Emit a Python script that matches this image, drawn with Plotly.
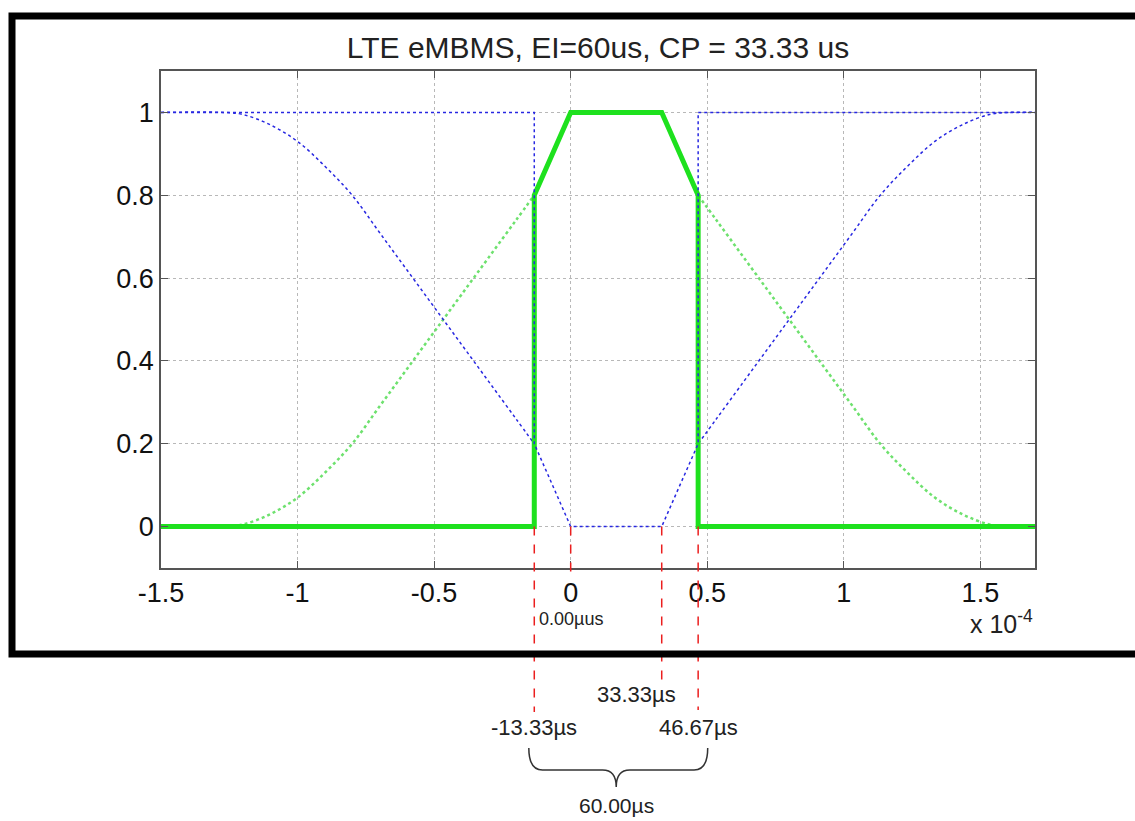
import plotly.graph_objects as go

# ---------------- data (time in microseconds) ----------------
edge_x_us = [-150, -13.33, -13.33, 0.0, 33.33, 46.67, 46.67, 170]
green_trap = [0, 0, 0.8, 1, 1, 0.8, 0, 0]
blue_step = [1, 1, 0.2, 0, 0, 0.2, 1, 1]

left_x_us = [-150, -127, -120, -110, -100, -90, -80, -70, -60, -50, -40, -30, -20, -13.33]
green_left = [0, 0, 0.005, 0.03, 0.07, 0.13, 0.20, 0.29, 0.38, 0.47, 0.56, 0.65, 0.74, 0.80]
blue_left = [1, 1, 0.995, 0.97, 0.93, 0.87, 0.80, 0.71, 0.62, 0.53, 0.44, 0.35, 0.26, 0.20]

right_x_us = [46.67, 53.33, 63.33, 73.33, 83.33, 93.33, 103.33, 113.33, 123.33, 133.33, 143.33, 153.33, 160.33, 170]
green_right = [0.80, 0.74, 0.65, 0.56, 0.47, 0.38, 0.29, 0.20, 0.13, 0.07, 0.03, 0.005, 0, 0]
blue_right = [0.20, 0.26, 0.35, 0.44, 0.53, 0.62, 0.71, 0.80, 0.87, 0.93, 0.97, 0.995, 1, 1]

marker_us = [-13.33, 0.0, 33.33, 46.67]
marker_labels = ["-13.33µs", "0.00µus", "33.33µs", "46.67µs"]
span_label = "60.00µs"

x_tickvals = [-1.5, -1, -0.5, 0, 0.5, 1, 1.5]
x_ticktext = ["-1.5", "-1", "-0.5", "0", "0.5", "1", "1.5"]
y_tickvals = [0, 0.2, 0.4, 0.6, 0.8, 1]
y_ticktext = ["0", "0.2", "0.4", "0.6", "0.8", "1"]

title_text = "LTE eMBMS, EI=60us, CP = 33.33 us"

# ---------------- layout geometry ----------------
W, H = 1135, 821
ML, MR, MT, MB = 161, 100, 71, 253
XR = [-1.5, 1.7]
YR = [-0.1, 1.1]
PH = H - MT - MB
PW = W - ML - MR


def to_x(us_list):
    # microseconds -> units of 1e-4 s
    return [u / 100.0 for u in us_list]


def ypix(Y):
    # pixel row -> paper coordinate
    return (H - MB - Y) / PH


def xpix(X):
    return (X - ML) / PW


FONT = "Liberation Sans, Arial, Helvetica, sans-serif"
GREEN = "rgb(30,225,30)"
LGREEN = "rgb(110,225,110)"
BLUE = "rgb(40,40,225)"

fig = go.Figure()

fig.add_trace(go.Scatter(x=to_x(left_x_us), y=green_left, mode="lines", line_shape="spline",
                         line=dict(color=LGREEN, width=2.5, dash="dot"), showlegend=False))
fig.add_trace(go.Scatter(x=to_x(right_x_us), y=green_right, mode="lines", line_shape="spline",
                         line=dict(color=LGREEN, width=2.5, dash="dot"), showlegend=False))
fig.add_trace(go.Scatter(x=to_x(left_x_us), y=blue_left, mode="lines", line_shape="spline",
                         line=dict(color=BLUE, width=1.5, dash="dot"), showlegend=False))
fig.add_trace(go.Scatter(x=to_x(right_x_us), y=blue_right, mode="lines", line_shape="spline",
                         line=dict(color=BLUE, width=1.5, dash="dot"), showlegend=False))
fig.add_trace(go.Scatter(x=to_x(edge_x_us), y=green_trap, mode="lines",
                         line=dict(color=GREEN, width=5), showlegend=False))
fig.add_trace(go.Scatter(x=to_x(edge_x_us), y=blue_step, mode="lines",
                         line=dict(color=BLUE, width=1.5, dash="dot"), showlegend=False))

# ---------------- shapes ----------------
shapes = []
y_zero = (0 - YR[0]) / (YR[1] - YR[0])
line_ends = [712, 572, 680, 710]
for u, end in zip(marker_us, line_ends):
    shapes.append(dict(type="line", xref="x", yref="paper", x0=u / 100, x1=u / 100,
                       y0=y_zero, y1=ypix(end),
                       line=dict(color="rgb(235,30,30)", width=1.5, dash="dash")))

# brace spanning the -13.33 .. 46.67 interval
xL = marker_us[0] / 100 - 0.02
xR = marker_us[3] / 100 + 0.035
xM = (marker_us[0] + marker_us[3]) / 200
yT, yMd, yTip = ypix(748), ypix(770), ypix(787)
d = 0.05
path = (f"M {xL},{yT} Q {xL},{yMd} {xL + d},{yMd} L {xM - d},{yMd} "
        f"Q {xM},{yMd} {xM},{yTip} Q {xM},{yMd} {xM + d},{yMd} "
        f"L {xR - d},{yMd} Q {xR},{yMd} {xR},{yT}")
shapes.append(dict(type="path", xref="x", yref="paper", path=path,
                   line=dict(color="#333333", width=1.5)))

# black frame around the figure
shapes.append(dict(type="rect", xref="paper", yref="paper",
                   x0=xpix(12), x1=xpix(1150), y0=ypix(654), y1=ypix(16),
                   line=dict(color="black", width=7), fillcolor="rgba(0,0,0,0)"))

# ---------------- annotations ----------------
ann = []
lab_pos = [(727, 0), (619, 0), (694, -25), (727, 0)]
for u, txt, (Y, xs), fs in zip(marker_us, marker_labels, lab_pos, [22, 18, 22, 22]):
    ann.append(dict(x=u / 100, xref="x", y=ypix(Y), yref="paper", text=txt, showarrow=False,
                    xanchor="center", yanchor="middle", xshift=xs,
                    font=dict(family=FONT, size=fs, color="#222222")))
ann.append(dict(x=xM, xref="x", y=ypix(805), yref="paper", text=span_label, showarrow=False,
                xanchor="center", yanchor="middle", font=dict(family=FONT, size=21, color="#222222")))
ann.append(dict(x=XR[1], xref="x", y=ypix(622), yref="paper", text="x 10<sup>-4</sup>",
                showarrow=False, xanchor="right", yanchor="middle",
                font=dict(family=FONT, size=25, color="#222222")))

axis_common = dict(showline=True, mirror="ticks", linecolor="#555555", linewidth=1.5,
                   ticks="inside", ticklen=7, tickcolor="#555555", tickwidth=1.2,
                   showgrid=True, gridcolor="#b8b8b8", gridwidth=1, griddash="dot",
                   zeroline=False, tickfont=dict(family=FONT, size=27, color="#111111"))

fig.update_layout(
    width=W, height=H,
    margin=dict(l=ML, r=MR, t=MT, b=MB, pad=0),
    paper_bgcolor="white", plot_bgcolor="white",
    title=dict(text=title_text, x=xpix((ML + W - MR) / 2), xref="paper", xanchor="center",
               y=1 - 47 / H, yref="container", yanchor="middle",
               font=dict(family=FONT, size=30, color="#222222")),
    xaxis=dict(range=XR, tickvals=x_tickvals, ticktext=x_ticktext, **axis_common),
    yaxis=dict(range=YR, tickvals=y_tickvals, ticktext=y_ticktext, **axis_common),
    shapes=shapes, annotations=ann, showlegend=False,
)

fig.write_html("out.html", config={"displayModeBar": False},
               post_script="document.body.style.margin='0';document.body.style.overflow='hidden';")
